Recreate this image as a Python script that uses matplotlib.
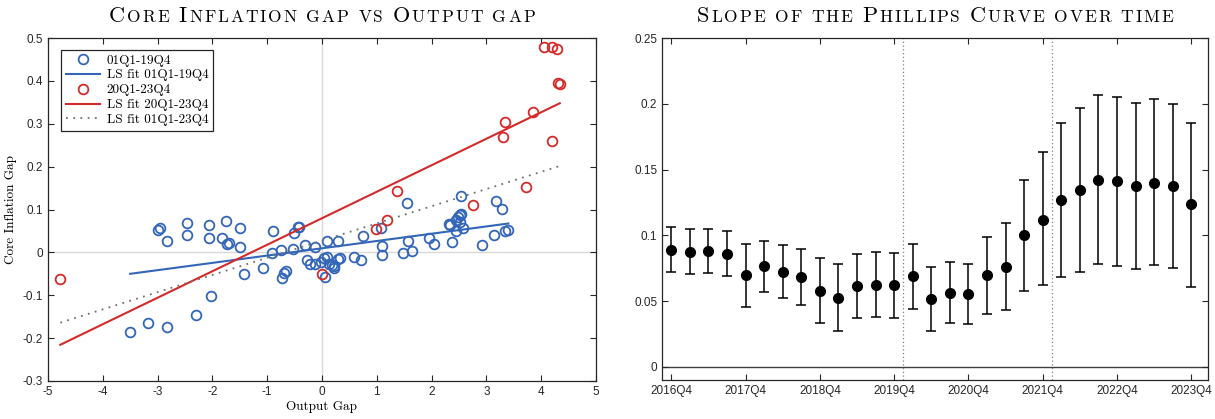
import numpy as np
import matplotlib
matplotlib.use("Agg")
import matplotlib.pyplot as plt
from matplotlib.offsetbox import TextArea, HPacker, AnchoredOffsetbox
from matplotlib.ticker import FuncFormatter

plt.rcParams['axes.unicode_minus'] = False
plt.rcParams['font.family'] = ['Liberation Sans', 'DejaVu Sans']

SERIF = 'cmr10'

# ---- left panel data: output gap vs core inflation gap ----
pre_x = [-3.50, -3.17, -2.83, -2.30, -2.03, -2.985, -2.95, -2.83, -2.46, -2.455,
         -2.07, -2.07, -1.76, -1.82, -1.725, -1.69, -1.49, -1.50, -1.42, -1.07,
         -0.89, -0.92, -0.745, -0.73, -0.69, -0.66, -0.53, -0.515, -0.44, -0.415,
         -0.315, -0.27, -0.22, -0.13, -0.13, -0.01, 0.04, 0.09, 0.05, 0.086,
         0.136, 0.186, 0.22, 0.22, 0.30, 0.33, 0.30, 0.59, 0.716, 0.745,
         1.07, 1.095, 1.10, 1.47, 1.57, 1.55, 1.65, 1.95, 2.05, 2.31,
         2.33, 2.38, 2.45, 2.45, 2.48, 2.51, 2.53, 2.53, 2.52, 2.58,
         2.92, 3.135, 3.18, 3.285, 3.34, 3.40]
pre_y = [-0.185, -0.165, -0.173, -0.146, -0.102, 0.052, 0.058, 0.027, 0.068, 0.040,
         0.064, 0.033, 0.074, 0.034, 0.019, 0.023, 0.058, 0.013, -0.050, -0.037,
         0.051, -0.001, 0.006, -0.060, -0.048, -0.043, 0.009, 0.045, 0.060, 0.060,
         0.017, -0.018, -0.028, -0.028, 0.013, -0.022, -0.014, -0.010, -0.057, 0.026,
         -0.027, -0.030, -0.036, -0.032, -0.016, -0.012, 0.026, -0.011, -0.018, 0.039,
         0.058, -0.006, 0.014, -0.002, 0.026, 0.115, 0.003, 0.034, 0.020, 0.066,
         0.065, 0.024, 0.050, 0.076, 0.083, 0.087, 0.089, 0.132, 0.072, 0.057,
         0.018, 0.041, 0.119, 0.102, 0.051, 0.052]
post_x = [-4.775, 0.007, 0.98, 1.18, 1.37, 2.76, 3.30, 3.34, 3.715, 3.86,
          4.195, 4.05, 4.195, 4.28, 4.30, 4.34]
post_y = [-0.063, -0.051, 0.055, 0.076, 0.143, 0.111, 0.270, 0.305, 0.153, 0.328,
          0.259, 0.479, 0.478, 0.475, 0.396, 0.393]

# least-squares fits (intercept, slope)
fit_pre = (0.0095, 0.0170)
fit_post = (0.0796, 0.0618)
fit_all = (0.0275, 0.0401)

# ---- right panel data: rolling Phillips curve slope ----
quarters = ['2016Q4', '2017Q1', '2017Q2', '2017Q3', '2017Q4', '2018Q1', '2018Q2', '2018Q3',
            '2018Q4', '2019Q1', '2019Q2', '2019Q3', '2019Q4', '2020Q1', '2020Q2', '2020Q3',
            '2020Q4', '2021Q1', '2021Q2', '2021Q3', '2021Q4', '2022Q1', '2022Q2', '2022Q3',
            '2022Q4', '2023Q1', '2023Q2', '2023Q3', '2023Q4']
slope = [0.089, 0.0875, 0.088, 0.086, 0.0695, 0.0765, 0.0725, 0.068, 0.058, 0.0525,
         0.0615, 0.062, 0.062, 0.069, 0.0515, 0.0565, 0.0555, 0.0695, 0.076, 0.100,
         0.112, 0.1265, 0.1345, 0.142, 0.141, 0.1375, 0.140, 0.1375, 0.1235]
slope_lo = [0.072, 0.0705, 0.071, 0.069, 0.0455, 0.057, 0.0525, 0.047, 0.033, 0.027,
            0.037, 0.038, 0.037, 0.044, 0.027, 0.033, 0.0325, 0.040, 0.0435, 0.058,
            0.062, 0.068, 0.0725, 0.078, 0.077, 0.0745, 0.0775, 0.075, 0.061]
slope_hi = [0.106, 0.1045, 0.105, 0.103, 0.0935, 0.096, 0.093, 0.0895, 0.083, 0.0785,
            0.086, 0.087, 0.0865, 0.0935, 0.076, 0.080, 0.0785, 0.0985, 0.109, 0.142,
            0.163, 0.1855, 0.1965, 0.2065, 0.205, 0.2005, 0.2035, 0.200, 0.1855]
breaks = ['2019Q4', '2021Q4']  # dotted lines drawn half a quarter after these

BLUE = '#3366b8'
RED = '#d42a2a'
EDGE = '#262626'


def small_caps_title(ax, text, big=16.0, small=12.5, spacing=1.4):
    """MATLAB/LaTeX style small caps title, one text piece per letter"""
    boxes = []
    for ch in text:
        size = big if ch.isupper() else small
        boxes.append(TextArea(ch.upper() if ch != ' ' else '\u00a0',
                              textprops=dict(family=[SERIF, 'DejaVu Serif'], size=size,
                                             color='black')))
    pack = HPacker(children=boxes, align='baseline', pad=0, sep=spacing)
    anc = AnchoredOffsetbox(loc='lower center', child=pack, pad=0, frameon=False,
                            bbox_to_anchor=(0.5, 1.035), bbox_transform=ax.transAxes,
                            borderpad=0)
    ax.add_artist(anc)


def style_box(ax):
    for sp in ax.spines.values():
        sp.set_color(EDGE)
        sp.set_linewidth(0.9)
    ax.tick_params(direction='in', length=4, width=0.8, color=EDGE,
                   top=True, right=True, labelsize=8.5, labelcolor='#262626')


fig = plt.figure(figsize=(12.15, 4.19), dpi=100)
ax1 = fig.add_axes([0.0395, 0.0907, 0.451, 0.8186])
ax2 = fig.add_axes([0.5449, 0.0930, 0.4493, 0.8163])

# ---- left panel ----
ax1.axhline(0, color='#d9d9d9', lw=1.0, zorder=0)
ax1.axvline(0, color='#d9d9d9', lw=1.0, zorder=0)

xa = np.array(pre_x)
xb = np.array(post_x)
xall = np.concatenate([xa, xb])
xs_pre = np.array([xa.min(), xa.max()])
xs_post = np.array([xb.min(), xb.max()])
xs_all = np.array([xall.min(), xall.max()])

ax1.plot(pre_x, pre_y, 'o', mfc='none', mec=BLUE, mew=1.3, ms=7, label='01Q1-19Q4')
ax1.plot(xs_pre, fit_pre[0] + fit_pre[1] * xs_pre, color=BLUE, lw=1.5,
         label='LS fit 01Q1-19Q4')
ax1.plot(post_x, post_y, 'o', mfc='none', mec=RED, mew=1.3, ms=7, label='20Q1-23Q4')
ax1.plot(xs_post, fit_post[0] + fit_post[1] * xs_post, color=RED, lw=1.5,
         label='LS fit 20Q1-23Q4')
ax1.plot(xs_all, fit_all[0] + fit_all[1] * xs_all, color='#707070', lw=1.3,
         ls=(0, (1, 3)), label='LS fit 01Q1-23Q4')

ax1.set_xlim(-5, 5)
ax1.set_ylim(-0.3, 0.5)
ax1.set_xticks(np.arange(-5, 6, 1))
ax1.set_yticks(np.round(np.arange(-0.3, 0.51, 0.1), 1))
ax1.yaxis.set_major_formatter(FuncFormatter(lambda v, p: f'{v:g}'))
style_box(ax1)
ax1.set_xlabel('Output Gap', family=SERIF, size=9.5, labelpad=2)
ax1.set_ylabel('Core Inflation Gap', family=SERIF, size=9.5, labelpad=4)

leg = ax1.legend(loc='upper left', bbox_to_anchor=(0.012, 0.985), fancybox=False,
                 edgecolor=EDGE, framealpha=1, prop=dict(family=SERIF, size=9.5),
                 handlelength=2.6, labelspacing=0.2, borderpad=0.35,
                 handletextpad=0.5)
leg.get_frame().set_linewidth(0.9)
small_caps_title(ax1, 'Core Inflation gap vs Output gap')

# ---- right panel ----
idx = np.arange(len(quarters))
sl = np.array(slope)
err = np.vstack([sl - np.array(slope_lo), np.array(slope_hi) - sl])
ax2.axhline(0, color='#404040', lw=1.0, zorder=0)
for b in breaks:
    ax2.axvline(quarters.index(b) + 0.5, color='#808080', lw=0.9, ls=(0, (1, 2)))
ax2.errorbar(idx, sl, yerr=err, fmt='o', color='black', ms=7, elinewidth=1.1,
             capsize=3.5, capthick=1.1)

ax2.set_xlim(-0.5, 28.9)
ax2.set_ylim(-0.01, 0.25)
qt = [i for i, q in enumerate(quarters) if q.endswith('Q4')]
ax2.set_xticks(qt)
ax2.set_xticklabels([quarters[i] for i in qt])
ax2.set_yticks([0, 0.05, 0.1, 0.15, 0.2, 0.25])
ax2.yaxis.set_major_formatter(FuncFormatter(lambda v, p: f'{v:g}'))
style_box(ax2)
small_caps_title(ax2, 'Slope of the Phillips Curve over time')

fig.savefig('out.png', dpi=100)
